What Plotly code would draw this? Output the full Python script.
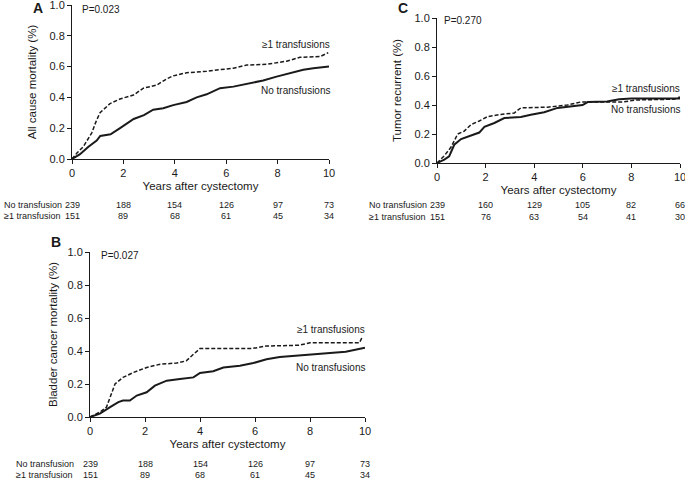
import plotly.graph_objects as go

W, H = 685, 483

# ---------------- data ----------------
years_ticks = [0, 2, 4, 6, 8, 10]

# Panel A: all cause mortality
a_no_t = [0, 0.3, 0.64, 0.96, 1.1, 1.5, 1.87, 2.06, 2.4, 2.8, 3.16, 3.55, 3.94, 4.46, 4.85, 5.24, 5.76,
          6.28, 6.8, 7.44, 7.96, 8.48, 9.0, 9.39, 10.0]
a_no_v = [0, 0.03, 0.08, 0.12, 0.15, 0.16, 0.2, 0.22, 0.26, 0.285, 0.32, 0.33, 0.35, 0.37, 0.4, 0.42, 0.46,
          0.47, 0.49, 0.51, 0.535, 0.56, 0.58, 0.59, 0.6]
a_tr_t = [0, 0.2, 0.44, 0.6, 0.77, 0.95, 1.09, 1.48, 1.87, 2.39, 2.78, 3.3, 3.68, 3.94, 4.46, 5.24, 5.76,
          6.28, 6.8, 7.57, 8.35, 8.87, 9.65, 9.97]
a_tr_v = [0, 0.04, 0.08, 0.12, 0.17, 0.25, 0.3, 0.36, 0.39, 0.415, 0.46, 0.48, 0.52, 0.54, 0.56, 0.57, 0.58,
          0.59, 0.61, 0.615, 0.635, 0.66, 0.665, 0.69]
a_risk_no = [239, 188, 154, 126, 97, 73]
a_risk_tr = [151, 89, 68, 61, 45, 34]

# Panel B: bladder cancer mortality
b_no_t = [0, 0.36, 0.73, 1.03, 1.2, 1.45, 1.7, 2.06, 2.36, 2.79, 3.27, 3.76, 4.0, 4.48, 4.85, 5.45, 5.94, 6.42,
          6.9, 7.64, 8.24, 9.3, 10.0]
b_no_v = [0, 0.02, 0.06, 0.09, 0.10, 0.10, 0.13, 0.15, 0.19, 0.22, 0.23, 0.24, 0.267, 0.277, 0.30, 0.31, 0.327, 0.35,
          0.364, 0.374, 0.384, 0.395, 0.42]
b_tr_t = [0, 0.36, 0.6, 0.91, 1.2, 1.58, 2.06, 2.55, 3.15, 3.5, 3.76, 4.0, 5.9, 6.4, 7.6, 8.0, 9.8, 9.9]
b_tr_v = [0, 0.03, 0.06, 0.2, 0.24, 0.27, 0.30, 0.32, 0.327, 0.34, 0.38, 0.415, 0.415, 0.43, 0.435, 0.45, 0.45, 0.485]
b_risk_no = [239, 188, 154, 126, 97, 73]
b_risk_tr = [151, 89, 68, 61, 45, 34]

# Panel C: tumor recurrence
c_no_t = [0, 0.3, 0.5, 0.71, 0.99, 1.4, 1.74, 1.95, 2.36, 2.77, 3.45, 3.86, 4.41, 4.96, 5.5, 5.99, 6.2,
          7.0, 7.5, 8.0, 10.0]
c_no_v = [0, 0.023, 0.046, 0.126, 0.165, 0.19, 0.21, 0.25, 0.276, 0.31, 0.317, 0.333, 0.35, 0.38, 0.39, 0.40, 0.42,
          0.425, 0.44, 0.445, 0.445]
c_tr_t = [0, 0.3, 0.58, 0.85, 1.12, 1.4, 1.74, 2.08, 2.63, 3.18, 3.45, 4.55, 5.37, 5.9, 7.56, 8.25, 9.75, 10.0]
c_tr_v = [0, 0.05, 0.11, 0.2, 0.22, 0.265, 0.29, 0.32, 0.335, 0.345, 0.38, 0.385, 0.40, 0.42, 0.42, 0.435, 0.44, 0.455]
c_risk_no = [239, 160, 129, 105, 82, 66]
c_risk_tr = [151, 76, 63, 54, 41, 30]

FONT = "Liberation Sans, Arial, sans-serif"
INK = "#1a1a1a"

# panel geometry in pixels: (x0, x1, ytop, ybottom)
panels = {
    "A": dict(px=(72, 329), py=(5, 159), xa="x", ya="y", xl="xaxis", yl="yaxis",
              no=(a_no_t, a_no_v), tr=(a_tr_t, a_tr_v), risk=(a_risk_no, a_risk_tr),
              ytitle="All cause mortality (%)", p="P=0.023", letter=(38, 8),
              pxy=(80, 9), lab_tr=(332, 45), lab_no=(332, 90), rows=(205, 216), rowx=2, standoff=10),
    "B": dict(px=(90, 365), py=(252, 417), xa="x2", ya="y2", xl="xaxis2", yl="yaxis2",
              no=(b_no_t, b_no_v), tr=(b_tr_t, b_tr_v), risk=(b_risk_no, b_risk_tr),
              ytitle="Bladder cancer mortality (%)", p="P=0.027", letter=(56, 242),
              pxy=(99, 255), lab_tr=(367, 329), lab_no=(367, 367), rows=(464, 475), rowx=14, standoff=7),
    "C": dict(px=(437, 680), py=(18, 163), xa="x3", ya="y3", xl="xaxis3", yl="yaxis3",
              no=(c_no_t, c_no_v), tr=(c_tr_t, c_tr_v), risk=(c_risk_no, c_risk_tr),
              ytitle="Tumor recurrent (%)", p="P=0.270", letter=(403, 8),
              pxy=(442, 20), lab_tr=(682, 88), lab_no=(682, 109), rows=(205, 217), rowx=367, standoff=10),
}


def fx(px):
    return px / W


def fy(py):
    return 1 - py / H


fig = go.Figure()
annotations = []
layout = {}

for name, p in panels.items():
    t, v = p["no"]
    fig.add_trace(go.Scatter(x=t, y=v, mode="lines", line=dict(color=INK, width=2),
                             xaxis=p["xa"], yaxis=p["ya"], showlegend=False, cliponaxis=False,
                             name="No transfusions"))
    t, v = p["tr"]
    fig.add_trace(go.Scatter(x=t, y=v, mode="lines",
                             line=dict(color=INK, width=1.5, dash="4px,2px"),
                             xaxis=p["xa"], yaxis=p["ya"], showlegend=False, cliponaxis=False,
                             name="≥1 transfusions"))
    axis_common = dict(showgrid=False, zeroline=False, showline=True, linecolor=INK, linewidth=1,
                       ticks="outside", ticklen=4, tickwidth=1, tickcolor=INK,
                       tickfont=dict(family=FONT, size=11, color=INK), automargin=False,
                       ticklabeloverflow="allow")
    layout[p["xl"]] = dict(axis_common, domain=[fx(p["px"][0]), fx(p["px"][1])], range=[0, 10],
                           tickvals=years_ticks, anchor=p["ya"],
                           title=dict(text="Years after cystectomy", standoff=3,
                                      font=dict(family=FONT, size=11.5, color=INK)))
    layout[p["yl"]] = dict(axis_common, domain=[fy(p["py"][1]), fy(p["py"][0])], range=[0, 1],
                           tickvals=[0, 0.2, 0.4, 0.6, 0.8, 1.0], tickformat=".1f", anchor=p["xa"],
                           title=dict(text=p["ytitle"], standoff=p["standoff"],
                                      font=dict(family=FONT, size=11.5, color=INK)))
    # panel letter
    annotations.append(dict(text="<b>%s</b>" % name, x=fx(p["letter"][0]), y=fy(p["letter"][1]),
                            xref="paper", yref="paper", showarrow=False, xanchor="center", yanchor="middle",
                            font=dict(family=FONT, size=14, color=INK)))
    # P value
    annotations.append(dict(text=p["p"], x=fx(p["pxy"][0]), y=fy(p["pxy"][1]), xref="paper", yref="paper",
                            showarrow=False, xanchor="left", yanchor="middle",
                            font=dict(family=FONT, size=10, color=INK)))
    # curve labels
    annotations.append(dict(text="≥1 transfusions", x=fx(p["lab_tr"][0]), y=fy(p["lab_tr"][1]),
                            xref="paper", yref="paper", showarrow=False, xanchor="right", yanchor="middle",
                            font=dict(family=FONT, size=10, color=INK)))
    annotations.append(dict(text="No transfusions", x=fx(p["lab_no"][0]), y=fy(p["lab_no"][1]),
                            xref="paper", yref="paper", showarrow=False, xanchor="right", yanchor="middle",
                            font=dict(family=FONT, size=10, color=INK)))
    # risk table
    row_names = ["No transfusion", "≥1 transfusion"]
    for r, (rowname, counts) in enumerate(zip(row_names, p["risk"])):
        ypos = fy(p["rows"][r])
        annotations.append(dict(text=rowname, x=fx(p["rowx"]), y=ypos, xref="paper", yref="paper",
                                showarrow=False, xanchor="left", yanchor="middle",
                                font=dict(family=FONT, size=9, color=INK)))
        for k, (tk, c) in enumerate(zip(years_ticks, counts)):
            annotations.append(dict(text=str(c), x=tk, y=ypos, xref=p["xa"], yref="paper",
                                    showarrow=False, xanchor="center", yanchor="middle",
                                    font=dict(family=FONT, size=9, color=INK)))

fig.update_layout(
    width=W, height=H, margin=dict(l=0, r=0, t=0, b=0),
    paper_bgcolor="white", plot_bgcolor="white",
    annotations=annotations, **layout,
)

fig.write_html("out.html", config={"displayModeBar": False},
               post_script="document.body.style.margin='0';document.body.style.overflow='hidden';")
